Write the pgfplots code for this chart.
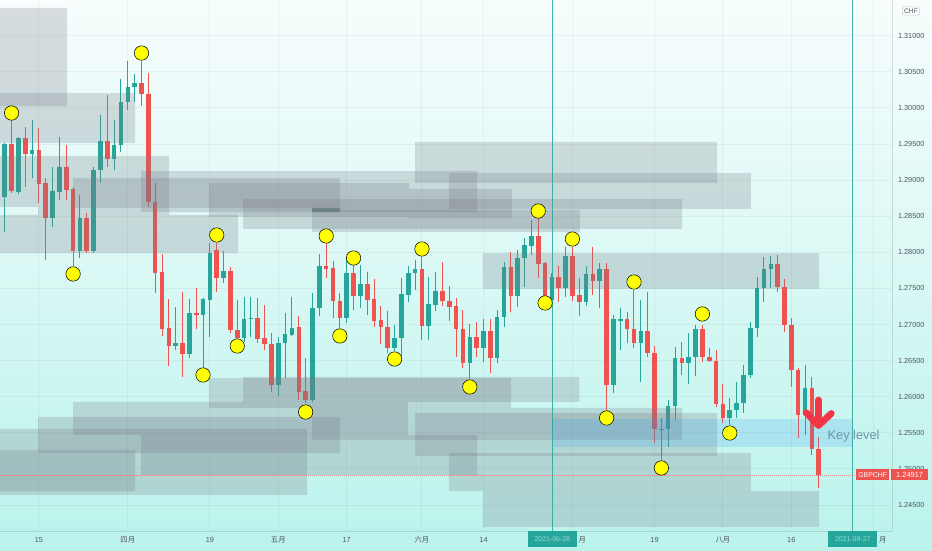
\documentclass[border=0pt]{standalone}
\usepackage{pgfplots}
\usepackage{pgfplotstable}
\pgfplotsset{compat=1.18}
\usepackage{fontspec}
\setmainfont{Liberation Sans}
\newfontfamily\cjk{Noto Sans CJK SC}
\definecolor{cgreen}{RGB}{38,166,154}
\definecolor{cred}{RGB}{239,83,80}
\definecolor{zonegray}{RGB}{120,123,134}
\definecolor{keyblue}{RGB}{33,150,243}
\definecolor{dotyellow}{RGB}{255,255,0}
\definecolor{arrowred}{RGB}{242,54,69}
\definecolor{tickgray}{RGB}{80,85,95}
\definecolor{bgtop}{RGB}{247,253,253}
\definecolor{bgbot}{RGB}{187,243,236}
\definecolor{keytext}{RGB}{110,150,165}
\newcommand\tl{\fontsize{5.5}{6}\selectfont}
\newcommand{\zone}[4]{\addplot[fill=zonegray, fill opacity=0.25, draw=none, forget plot] coordinates {(#1,#3) (#2,#3) (#2,#4) (#1,#4) (#1,#3)};}
\pgfplotsset{candle/.style={only marks, mark=*, mark size=0pt, mark options={draw opacity=0, fill opacity=0}, forget plot}}

% green candles: index open high low close
\pgfplotstableread{
i o h l c
0 1.28766 1.29514 1.28281 1.29500
2 1.28835 1.29597 1.28808 1.29583
4 1.29362 1.29833 1.29029 1.29417
7 1.28475 1.29182 1.28351 1.28849
8 1.28835 1.29597 1.28725 1.29182
11 1.28018 1.28794 1.27921 1.28475
13 1.28018 1.29182 1.27990 1.29140
14 1.29140 1.29902 1.28960 1.29542
16 1.29292 1.29833 1.29140 1.29486
17 1.29486 1.30400 1.29389 1.30082
18 1.30082 1.30650 1.29971 1.30290
19 1.30290 1.30470 1.30082 1.30345
25 1.26702 1.27243 1.26647 1.26744
27 1.26592 1.27353 1.26536 1.27159
29 1.27132 1.27367 1.26398 1.27353
30 1.27340 1.28129 1.26827 1.27990
32 1.27644 1.28018 1.27575 1.27741
35 1.26813 1.27381 1.26758 1.27076
36 1.27076 1.27381 1.26827 1.27090
40 1.26162 1.26827 1.26010 1.26744
41 1.26744 1.27159 1.26259 1.26869
42 1.26855 1.27381 1.26841 1.26952
45 1.25955 1.27436 1.25927 1.27229
46 1.27229 1.27977 1.27118 1.27810
50 1.27090 1.27935 1.27021 1.27713
52 1.27395 1.27824 1.27229 1.27561
57 1.26675 1.26993 1.26633 1.26813
58 1.26813 1.27644 1.26564 1.27423
59 1.27409 1.27810 1.27312 1.27713
60 1.27713 1.27894 1.27478 1.27769
62 1.26979 1.27658 1.26786 1.27284
63 1.27270 1.27727 1.27187 1.27464
68 1.26467 1.27007 1.26259 1.26827
70 1.26675 1.27076 1.26481 1.26910
72 1.26536 1.27201 1.26467 1.27104
73 1.27104 1.27866 1.26966 1.27797
75 1.27395 1.28032 1.27243 1.27921
76 1.27921 1.28198 1.27520 1.28101
77 1.28087 1.28448 1.27963 1.28226
80 1.27340 1.27713 1.27284 1.27658
82 1.27506 1.28074 1.27381 1.27949
85 1.27312 1.27810 1.27256 1.27700
87 1.27603 1.27852 1.27229 1.27769
89 1.26162 1.27132 1.26051 1.27076
90 1.27049 1.27229 1.26647 1.27076
93 1.26744 1.27340 1.26204 1.26910
96 1.25539 1.25705 1.25124 1.25553
97 1.25553 1.25955 1.25304 1.25871
98 1.25871 1.26689 1.25678 1.26536
100 1.26467 1.26882 1.26176 1.26550
101 1.26550 1.26993 1.26287 1.26938
106 1.25705 1.25982 1.25608 1.25816
107 1.25816 1.26204 1.25705 1.25913
108 1.25913 1.26439 1.25774 1.26301
109 1.26301 1.27035 1.26259 1.26952
110 1.26952 1.27658 1.26827 1.27506
111 1.27506 1.27935 1.27312 1.27769
112 1.27769 1.27949 1.27506 1.27838
117 1.25747 1.26439 1.25470 1.26121
}\up

% red candles: index open high low close
\pgfplotstableread{
i o h l c
1 1.29500 1.29833 1.28821 1.28849
3 1.29583 1.29736 1.28905 1.29362
5 1.29417 1.29722 1.28683 1.28946
6 1.28960 1.29029 1.27894 1.28475
9 1.29182 1.29486 1.28725 1.28863
10 1.28877 1.28905 1.27810 1.28018
12 1.28475 1.28544 1.27990 1.28018
15 1.29542 1.30179 1.29182 1.29292
20 1.30345 1.30650 1.30026 1.30193
21 1.30193 1.30483 1.28628 1.28697
22 1.28697 1.28960 1.27436 1.27713
23 1.27727 1.27977 1.26841 1.26938
24 1.26952 1.27353 1.26425 1.26702
26 1.26744 1.27450 1.26273 1.26592
28 1.27159 1.27506 1.26938 1.27132
31 1.28032 1.28129 1.27450 1.27644
33 1.27741 1.27797 1.26882 1.26924
34 1.26924 1.27340 1.26744 1.26813
37 1.27090 1.27367 1.26744 1.26799
38 1.26813 1.27270 1.26647 1.26730
39 1.26730 1.26882 1.26065 1.26162
43 1.26966 1.27118 1.25955 1.26065
44 1.26079 1.26536 1.25913 1.25955
47 1.27810 1.28129 1.27644 1.27769
48 1.27783 1.27880 1.27090 1.27326
49 1.27326 1.27436 1.26924 1.27090
51 1.27713 1.27824 1.27201 1.27395
53 1.27561 1.27727 1.27132 1.27340
54 1.27353 1.27630 1.26966 1.27049
55 1.27063 1.27256 1.26730 1.26966
56 1.26966 1.27187 1.26605 1.26675
61 1.27769 1.27935 1.26786 1.26979
64 1.27464 1.27866 1.27256 1.27326
65 1.27326 1.27533 1.27049 1.27243
66 1.27256 1.27367 1.26550 1.26938
67 1.26938 1.27201 1.26398 1.26467
69 1.26827 1.27035 1.26550 1.26675
71 1.26910 1.27076 1.26328 1.26536
74 1.27797 1.28004 1.27173 1.27395
78 1.28226 1.28475 1.27644 1.27838
79 1.27852 1.27866 1.27312 1.27381
81 1.27658 1.27810 1.27312 1.27506
83 1.27949 1.28074 1.27326 1.27395
84 1.27409 1.27644 1.27118 1.27312
86 1.27700 1.28074 1.27409 1.27603
88 1.27769 1.27852 1.25788 1.26162
91 1.27076 1.27173 1.26744 1.26938
92 1.26938 1.27478 1.26675 1.26744
94 1.26910 1.27450 1.26550 1.26605
95 1.26605 1.26702 1.25359 1.25553
99 1.26536 1.26758 1.26301 1.26467
102 1.26938 1.26993 1.26481 1.26550
103 1.26550 1.26675 1.26481 1.26495
104 1.26495 1.26647 1.25858 1.25899
105 1.25899 1.26176 1.25636 1.25705
113 1.27838 1.27963 1.27450 1.27520
114 1.27520 1.27630 1.26896 1.26993
115 1.26993 1.27090 1.26135 1.26370
116 1.26370 1.26398 1.25428 1.25747
118 1.26121 1.26273 1.25193 1.25276
119 1.25276 1.25442 1.24736 1.24917
}\down

\begin{document}
\begin{tikzpicture}
\useasboundingbox (0,-14.25pt) rectangle (699pt,398.25pt);
\shade[top color=bgtop, bottom color=bgbot] (0,-14.25pt) rectangle (699pt,398.25pt);
\begin{axis}[
  at={(0,0)}, anchor=south west,
  width=669pt, height=398.25pt, scale only axis,
  xmin=-0.687, xmax=129.72, ymin=1.2414, ymax=1.314945,
  clip=false,
  axis x line*=bottom, axis y line*=right,
  axis line style={draw=black, draw opacity=0.12, line width=0.75pt},
  xtick={5,18,30,40,50,61,70,83,95,105,115,127},
  xticklabels={15,{\cjk 四月},19,{\cjk 五月},17,{\cjk 六月},14,{},19,{\cjk 八月},16,{}},
  ytick={1.245,1.25,1.255,1.26,1.265,1.27,1.275,1.28,1.285,1.29,1.295,1.30,1.305,1.31},
  scaled y ticks=false,
  major tick length=0pt,
  tick style={draw=none},
  grid=major,
  grid style={draw=black, draw opacity=0.045, line width=0.75pt},
  xticklabel style={font=\tl, text=tickgray, anchor=center, yshift=-6.75pt, inner sep=0pt},
  yticklabel style={font=\tl, text=tickgray, anchor=west, inner sep=0pt, xshift=4.3pt,
     /pgf/number format/.cd, fixed, fixed zerofill, precision=5, assume math mode=true},
]
% wicks
\addplot[candle, error bars/.cd, y dir=plus, y explicit, error mark=none,
  error bar style={line width=0.75pt, color=cgreen}]
  table[x=i, y=l, y error plus expr=\thisrow{h}-\thisrow{l}] {\up};
\addplot[candle, error bars/.cd, y dir=plus, y explicit, error mark=none,
  error bar style={line width=0.75pt, color=cred}]
  table[x=i, y=l, y error plus expr=\thisrow{h}-\thisrow{l}] {\down};
% bodies
\addplot[candle, error bars/.cd, y dir=plus, y explicit, error mark=none,
  error bar style={line width=3.45pt, color=cgreen}]
  table[x=i, y=o, y error plus expr={max(\thisrow{c}-\thisrow{o},0.00012)}] {\up};
\addplot[candle, error bars/.cd, y dir=plus, y explicit, error mark=none,
  error bar style={line width=3.45pt, color=cred}]
  table[x=i, y=c, y error plus expr={max(\thisrow{o}-\thisrow{c},0.00012)}] {\down};

% zones (top)
\zone{-0.687}{9.11}{1.30026}{1.31384}
\zone{-0.687}{19.05}{1.29514}{1.30206}
\zone{-0.687}{4.87}{1.28628}{1.29334}
\zone{4.87}{24.02}{1.28517}{1.29334}
\zone{-0.687}{34.11}{1.27990}{1.28517}
\zone{19.93}{69.05}{1.28558}{1.29126}
\zone{9.99}{49.02}{1.28614}{1.29029}
\zone{29.87}{59.11}{1.28489}{1.28960}
\zone{34.84}{99.02}{1.28323}{1.28738}
\zone{44.93}{84.1}{1.28281}{1.28586}
\zone{64.96}{109.1}{1.28600}{1.29098}
\zone{59.99}{104.14}{1.28960}{1.29528}
\zone{59.11}{74.17}{1.28475}{1.28877}
\zone{69.93}{119.05}{1.27492}{1.27990}
\addplot[fill=black!55!cgreen!40!gray, fill opacity=0.6, draw=none, forget plot] coordinates {(44.93,1.28558) (49.02,1.28558) (49.02,1.28614) (44.93,1.28614) (44.93,1.28558)};
% zones (bottom)
\zone{29.87}{74.02}{1.25844}{1.26259}
\zone{34.84}{84.0}{1.25927}{1.26273}
\zone{9.99}{58.96}{1.25470}{1.25927}
\zone{44.93}{99.02}{1.25401}{1.25844}
\zone{59.99}{104.14}{1.25179}{1.25774}
\zone{4.87}{49.02}{1.25220}{1.25719}
\zone{-0.687}{44.2}{1.24639}{1.25553}
\zone{-0.687}{19.05}{1.24694}{1.25262}
\zone{19.93}{69.05}{1.24917}{1.25470}
\zone{64.96}{109.1}{1.24694}{1.25220}
\zone{69.93}{119.05}{1.24196}{1.24694}
% key level zone
\addplot[fill=keyblue, fill opacity=0.17, draw=none, forget plot] coordinates {(80.16,1.25304) (124.0,1.25304) (124.0,1.25691) (80.16,1.25691) (80.16,1.25304)};
\node[font=\fontsize{9.6}{10}\selectfont, text=keytext] at (axis cs:124.1,1.25456) {Key level};

% vertical lines
\addplot[cgreen, line width=0.75pt, opacity=0.85, forget plot] coordinates {(80.06,1.2414) (80.06,1.314945)};
\addplot[cgreen, line width=0.75pt, opacity=0.85, forget plot] coordinates {(123.98,1.2414) (123.98,1.314945)};

% last price line
\addplot[cred, opacity=0.6, line width=0.6pt, dash pattern=on 0.75pt off 0.75pt, forget plot] coordinates {(-0.687,1.24917) (125,1.24917)};

% pivot dots
\addplot[only marks, mark=*, mark size=5.4pt, mark options={fill=dotyellow, draw=none}, forget plot] coordinates {
(1,1.29929) (20,1.30760) (10,1.27700) (31,1.28240) (29,1.26301) (34,1.26702) (44,1.25788)
(47,1.28226) (49,1.26841) (51,1.27921) (57,1.26522) (61,1.28046) (68,1.26135) (78,1.28572)
(79,1.27298) (83,1.28184) (88,1.25705) (92,1.27589) (96,1.25013) (102,1.27146) (106,1.25497)};

% down arrow
\addplot[arrowred, line width=5pt, line cap=round, forget plot] coordinates {(118.98,1.25955) (118.98,1.25640)};
\addplot[arrowred, line width=5pt, line cap=round, line join=round, forget plot] coordinates {(117.15,1.25780) (118.98,1.25600) (120.85,1.25768)};

% labels
\node[fill=cred, text=white, font=\fontsize{5.2}{6}\selectfont, minimum width=24.75pt, minimum height=8.25pt, inner sep=0pt] at (axis cs:126.9,1.24917) {GBPCHF};
\node[fill=cred, text=white, font=\fontsize{5.6}{6}\selectfont, minimum width=27.75pt, minimum height=8.25pt, inner sep=0pt] at (axis cs:132.3,1.24917) {1.24917};
\node[draw=black!20, rounded corners=1.5pt, fill=white, fill opacity=0.6, text opacity=1, text=tickgray, font=\fontsize{5}{6}\selectfont, inner sep=1.3pt] at (axis cs:132.5,1.31342) {CHF};
\node[fill=cgreen, text=white, text opacity=0.55, font=\fontsize{5.2}{6}\selectfont, minimum width=36.75pt, minimum height=12pt, inner sep=0pt, anchor=north] at (axis cs:80.06,1.2414) {2021-06-28};
\node[fill=cgreen, text=white, text opacity=0.55, font=\fontsize{5.2}{6}\selectfont, minimum width=36.75pt, minimum height=12pt, inner sep=0pt, anchor=north] at (axis cs:123.98,1.2414) {2021-08-27};
\node[font=\tl\cjk, text=tickgray, anchor=west, inner sep=0pt] at ([yshift=-6.75pt]axis cs:83.85,1.2414) {月};
\node[font=\tl\cjk, text=tickgray, anchor=west, inner sep=0pt] at ([yshift=-6.75pt]axis cs:127.8,1.2414) {月};
\end{axis}
\end{tikzpicture}
\end{document}
